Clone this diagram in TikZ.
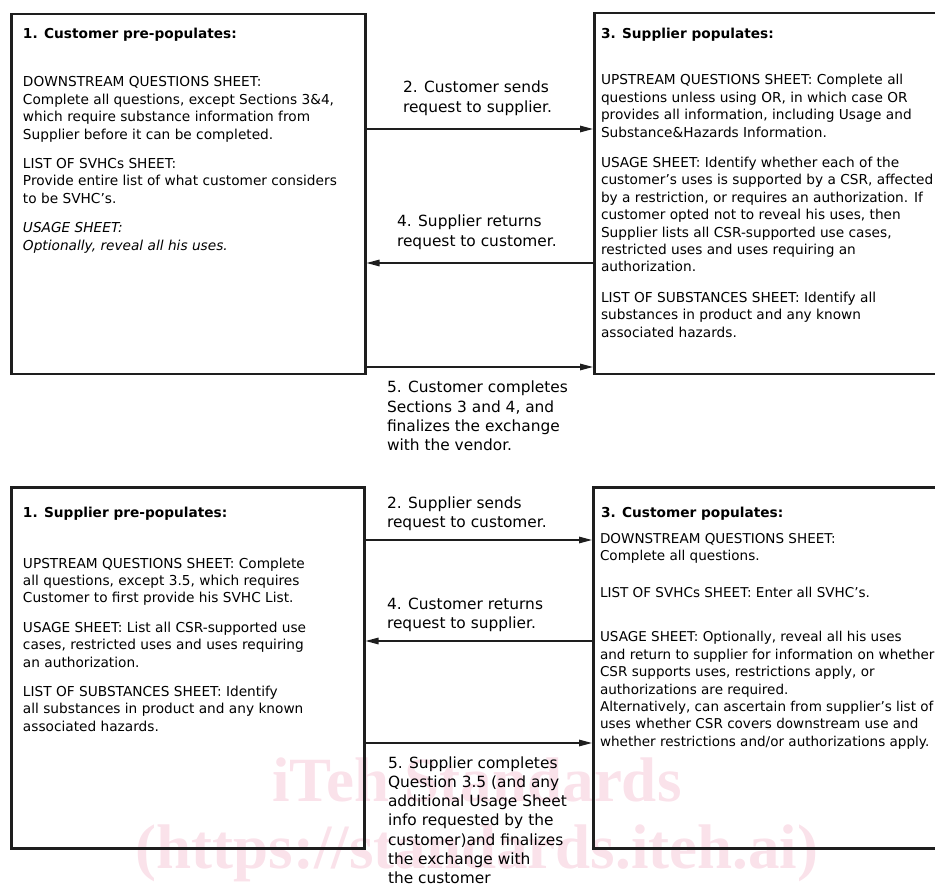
\documentclass[tikz,border=0pt]{standalone}
\usepackage{fontspec}
\setmainfont{DejaVu Sans}[BoldFont={DejaVu Sans Bold},ItalicFont={DejaVu Sans Oblique}]
\newfontfamily\wmfont{Liberation Serif}
\usetikzlibrary{arrows.meta}
\definecolor{wmpink}{RGB}{250,226,234}
\definecolor{linecol}{RGB}{30,30,30}
\newcommand\boxfont{\fontsize{13.7}{17.4}\selectfont}
\newcommand\brfont{\fontsize{13.55}{17.4}\selectfont}
\newcommand\lblfont{\fontsize{15.4}{19.3}\selectfont}
\newcommand\wmsize{\fontsize{63}{63}\selectfont}
\begin{document}
\begin{tikzpicture}[x=1pt,y=-1pt,
  panel/.style={draw=linecol, line width=2.5pt, anchor=north west, inner sep=0pt},
  txt/.style={anchor=north west, inner sep=0pt, outer sep=0pt, align=left, font=\boxfont},
  ttl/.style={txt, font=\boxfont\bfseries},
  lbl/.style={anchor=north west, inner sep=0pt, outer sep=0pt, align=left, font=\lblfont},
  arr/.style={draw=linecol, line width=1.4pt, -{Triangle[length=13pt,width=6.5pt]}},
  wm/.style={font=\wmfont\bfseries\wmsize, text=wmpink, anchor=base, inner sep=0pt}]
\useasboundingbox (0,0) rectangle (935,893);
\clip (0,0) rectangle (935,893);

% watermark
\node[wm] (wm1) at (477,801) {iTeh Standards};
\node[wm] (wm2) at (477,868) {(https://standards.iteh.ai)};

% ---------- top exchange ----------
\node[panel, minimum width=354pt, minimum height=360pt] (tl) at (10,13) {};
\node[panel, minimum width=360pt, minimum height=361pt] (tr) at (593,12) {};

\node[ttl] (tlt) at (23,26.82) {\strut 1. Customer pre-populates:};
\node[txt] (tlb) at (23,74.82) {\strut DOWNSTREAM QUESTIONS SHEET:\\
Complete all questions, except Sections 3\&4,\\
which require substance information from\\
Supplier before it can be completed.\\[12pt]
LIST OF SVHCs SHEET:\\
Provide entire list of what customer considers\\
to be SVHC’s.\\[12pt]
{\itshape USAGE SHEET:}\\
{\itshape Optionally, reveal all his uses.}};

\node[ttl] (trt) at (601,26.82) {\strut 3. Supplier populates:};
\node[txt] (trb) at (601,72.82) {\strut UPSTREAM QUESTIONS SHEET: Complete all\\
questions unless using OR, in which case OR\\
provides all information, including Usage and\\
Substance\&Hazards Information.\\[13pt]
USAGE SHEET: Identify whether each of the\\
customer’s uses is supported by a CSR, affected\\
by a restriction, or requires an authorization. If\\
customer opted not to reveal his uses, then\\
Supplier lists all CSR-supported use cases,\\
restricted uses and uses requiring an\\
authorization.\\[13pt]
LIST OF SUBSTANCES SHEET: Identify all\\
substances in product and any known\\
associated hazards.};

\coordinate (ya) at (0,129);
\coordinate (yb) at (0,263);
\coordinate (yc) at (0,367);
\draw[arr] (tl.east |- ya) -- (tr.west |- ya);
\draw[arr] (tr.west |- yb) -- (tl.east |- yb);
\draw[arr] (tl.east |- yc) -- (tr.west |- yc);

\node[lbl] (t2) at (403,79.49) {\strut 2. Customer sends\\request to supplier.};
\node[lbl] (t4) at (397,213.49) {\strut 4. Supplier returns\\request to customer.};
\node[lbl] (t5) at (387,379.49) {\strut 5. Customer completes\\Sections 3 and 4, and\\finalizes the exchange\\with the vendor.};

% ---------- bottom exchange ----------
\node[panel, minimum width=353pt, minimum height=361pt] (bl) at (10,486) {};
\node[panel, minimum width=361pt, minimum height=361pt] (br) at (592,486) {};

\node[ttl] (blt) at (23,504.82) {\strut 1. Supplier pre-populates:};
\node[txt] (blb) at (23,555.82) {\strut UPSTREAM QUESTIONS SHEET: Complete\\
all questions, except 3.5, which requires\\
Customer to first provide his SVHC List.\\[12pt]
USAGE SHEET: List all CSR-supported use\\
cases, restricted uses and uses requiring\\
an authorization.\\[12pt]
LIST OF SUBSTANCES SHEET: Identify\\
all substances in product and any known\\
associated hazards.};

\node[ttl] (brt) at (601,504.82) {\strut 3. Customer populates:};
\node[txt, font=\brfont] (brb) at (600,530.82) {\strut DOWNSTREAM QUESTIONS SHEET:\\
Complete all questions.\\[20pt]
LIST OF SVHCs SHEET: Enter all SVHC’s.\\[26.6pt]
USAGE SHEET: Optionally, reveal all his uses\\
and return to supplier for information on whether\\
CSR supports uses, restrictions apply, or\\
authorizations are required.\\
Alternatively, can ascertain from supplier’s list of\\
uses whether CSR covers downstream use and\\
whether restrictions and/or authorizations apply.};

\coordinate (yd) at (0,540);
\coordinate (ye) at (0,641);
\coordinate (yf) at (0,743);
\draw[arr] (bl.east |- yd) -- (br.west |- yd);
\draw[arr] (br.west |- ye) -- (bl.east |- ye);
\draw[arr] (bl.east |- yf) -- (br.west |- yf);

\node[lbl] (b2) at (387,494.49) {\strut 2. Supplier sends\\request to customer.};
\node[lbl] (b4) at (387,595.49) {\strut 4. Customer returns\\request to supplier.};
\node[lbl] (b5) at (388,754.49) {\strut 5. Supplier completes\\Question 3.5 (and any\\additional Usage Sheet\\info requested by the\\customer)and finalizes\\the exchange with\\the customer};
\end{tikzpicture}
\end{document}
